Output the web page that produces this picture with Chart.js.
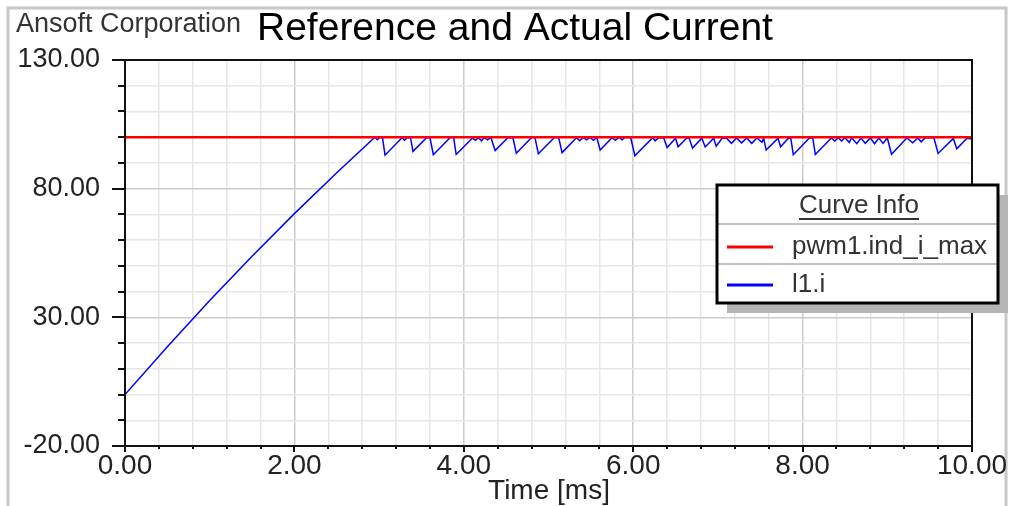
<!DOCTYPE html>
<html>
<head>
<meta charset="utf-8">
<script src="https://cdn.jsdelivr.net/npm/chart.js@4.4.1/dist/chart.umd.min.js"></script>
<style>
  html, body { margin: 0; padding: 0; background: #fff; overflow: hidden; }
  canvas { display: block; }
</style>
</head>
<body>
<canvas id="c" width="1013" height="506"></canvas>
<script>
// Texts
const chartTitle = 'Reference and Actual Current';
const companyLabel = 'Ansoft Corporation';
const xAxisTitle = 'Time [ms]';
const legendTitle = 'Curve Info';
const seriesNames = ['pwm1.ind_i_max', 'l1.i'];

// Tick labels shown on the axes
const xMajorTicks = [0, 2, 4, 6, 8, 10];
const yMajorTicks = [-20, 30, 80, 130];

// Reference current (pwm1.ind_i_max)
const refTime = [0, 10];
const refCurrent = [100, 100];

// Inductor current (l1.i): ramp-up, then hysteresis ripple under the reference
const timeMs = [
  0, 0.5, 1.0, 1.5, 2.0, 2.5, 2.95,
  2.98, 3.01, 3.04, 3.07, 3.27, 3.30, 3.33, 3.37, 3.40, 3.56, 3.60, 3.64, 3.84, 3.88, 3.91,
  4.10, 4.14, 4.17, 4.21, 4.24, 4.28, 4.32, 4.37, 4.52, 4.58, 4.62, 4.80, 4.84, 4.88,
  5.07, 5.12, 5.16, 5.33, 5.37, 5.41, 5.45, 5.49, 5.53, 5.57, 5.61, 5.75, 5.79, 5.83, 5.87, 5.90, 5.97,
  6.02, 6.23, 6.26, 6.30, 6.36, 6.40, 6.50, 6.53, 6.63, 6.66, 6.70, 6.81, 6.85, 6.95, 6.98,
  7.05, 7.10, 7.16, 7.22, 7.28, 7.34, 7.40, 7.46, 7.52, 7.54, 7.57, 7.71, 7.74, 7.83, 7.86, 7.89,
  8.08, 8.12, 8.15, 8.34, 8.38, 8.42, 8.46, 8.50, 8.55, 8.58, 8.64, 8.69, 8.74, 8.80, 8.85, 8.90, 8.95,
  9.00, 9.05, 9.23, 9.30, 9.36, 9.40, 9.45, 9.55, 9.60, 9.78, 9.82, 9.94, 10.0
];
const currentA = [
  0, 18.6, 36.5, 53.7, 70.3, 86.2, 100,
  99.0, 100, 99.8, 93.0, 99.8, 98.8, 99.8, 99.9, 94.5, 99.8, 99.9, 93.2, 99.9, 99.9, 93.3,
  99.6, 98.8, 99.8, 98.6, 99.9, 99.0, 99.9, 94.8, 99.8, 99.8, 93.8, 99.9, 99.9, 93.6,
  99.9, 99.9, 94.0, 99.8, 98.6, 99.9, 99.0, 99.9, 98.8, 99.9, 95.0, 99.8, 98.8, 99.9, 99.0, 99.9, 99.9,
  92.8, 99.8, 98.6, 99.8, 99.8, 96.0, 99.6, 96.3, 99.6, 99.7, 95.8, 99.6, 96.2, 99.6, 96.5,
  99.6, 99.7, 97.6, 99.7, 97.8, 99.7, 97.6, 99.7, 98.0, 99.6, 95.0, 99.6, 96.3, 99.5, 99.7, 93.2,
  99.7, 99.8, 93.3, 99.7, 98.5, 99.8, 98.5, 99.8, 98.0, 99.8, 97.5, 99.7, 97.6, 99.7, 97.5, 99.7, 97.6,
  99.7, 93.4, 99.7, 97.8, 99.7, 98.2, 99.8, 99.8, 93.7, 99.5, 95.5, 99.6, 99.3
];

const FONT = "'Liberation Sans', Arial, sans-serif";
const isMajor = (v, list) => list.some(m => Math.abs(m - v) < 1e-6);

// Page frame, header texts, plot box, tick marks, curve-info box
const decorations = {
  id: 'decorations',
  beforeDraw(chart) {
    const c = chart.ctx;
    c.save();
    c.fillStyle = '#fff';
    c.fillRect(0, 0, chart.width, chart.height);
    c.strokeStyle = '#c8c8c8';
    c.lineWidth = 3;
    c.beginPath();
    c.moveTo(8, chart.height);
    c.lineTo(8, 8);
    c.lineTo(1006, 8);
    c.lineTo(1006, chart.height);
    c.stroke();

    c.textBaseline = 'middle';
    c.textAlign = 'left';
    c.fillStyle = '#333';
    c.font = '27px ' + FONT;
    c.fillText(companyLabel, 16, 25);
    c.fillStyle = '#000';
    c.font = '39px ' + FONT;
    c.fillText(chartTitle, 257, 29);
    c.restore();
  },
  afterDatasetsDraw(chart) {
    const c = chart.ctx;
    const a = chart.chartArea;
    const xs = chart.scales.x, ys = chart.scales.y;
    c.save();
    c.strokeStyle = '#111';
    c.lineWidth = 2;
    c.strokeRect(a.left, a.top, a.right - a.left, a.bottom - a.top);
    c.beginPath();
    ys.ticks.forEach(t => {
      const y = Math.round(ys.getPixelForValue(t.value));
      const len = isMajor(t.value, yMajorTicks) ? 13 : 7;
      c.moveTo(a.left - len, y);
      c.lineTo(a.left, y);
    });
    xs.ticks.forEach(t => {
      const x = Math.round(xs.getPixelForValue(t.value));
      const len = isMajor(t.value, xMajorTicks) ? 6 : 3;
      c.moveTo(x, a.bottom);
      c.lineTo(x, a.bottom + len);
    });
    c.stroke();
    c.restore();
  },
  afterDraw(chart) {
    const c = chart.ctx;
    c.save();
    // axis title
    c.fillStyle = '#222';
    c.font = '28px ' + FONT;
    c.textAlign = 'center';
    c.textBaseline = 'middle';
    c.fillText(xAxisTitle, 549, 491);

    // curve info box
    const L = 717, T = 185, R = 998, B = 303;
    c.fillStyle = '#b4b4b4';
    c.fillRect(L + 10, T + 10, R - L, B - T);
    c.fillStyle = '#fff';
    c.fillRect(L, T, R - L, B - T);
    c.strokeStyle = '#c4c4c4';
    c.lineWidth = 2;
    c.beginPath();
    c.moveTo(L, 224); c.lineTo(R, 224);
    c.moveTo(L, 264); c.lineTo(R, 264);
    c.stroke();
    c.strokeStyle = '#000';
    c.lineWidth = 3;
    c.strokeRect(L, T, R - L, B - T);

    c.fillStyle = '#333';
    c.font = '26px ' + FONT;
    c.textAlign = 'center';
    c.fillText(legendTitle, 859, 206);
    const w = c.measureText(legendTitle).width;
    c.fillRect(859 - w / 2, 218, w, 2);

    const rows = [247, 285];
    chart.data.datasets.forEach((ds, i) => {
      c.strokeStyle = ds.borderColor;
      c.lineWidth = 3;
      c.beginPath();
      c.moveTo(727, rows[i]);
      c.lineTo(773, rows[i]);
      c.stroke();
      c.fillStyle = '#333';
      c.textAlign = 'left';
      c.fillText(ds.label, 792, rows[i]);
    });
    c.restore();
  }
};

new Chart(document.getElementById('c'), {
  type: 'line',
  data: {
    datasets: [
      {
        label: seriesNames[0],
        data: refTime.map((t, i) => ({ x: t, y: refCurrent[i] })),
        borderColor: '#ff0000',
        borderWidth: 2.5,
        pointRadius: 0,
        tension: 0
      },
      {
        label: seriesNames[1],
        data: timeMs.map((t, i) => ({ x: t, y: currentA[i] })),
        borderColor: '#0000ff',
        borderWidth: 1.5,
        pointRadius: 0,
        tension: 0
      }
    ]
  },
  options: {
    responsive: false,
    devicePixelRatio: 1,
    animation: false,
    layout: { padding: { top: 60, right: 41, left: 0, bottom: 0 } },
    plugins: { legend: { display: false }, title: { display: false }, tooltip: { enabled: false } },
    scales: {
      x: {
        type: 'linear',
        min: 0,
        max: 10,
        afterFit(s) { s.height = 60; },
        grid: {
          drawTicks: false,
          lineWidth: 1.5,
          color: ctx => isMajor(ctx.tick.value, xMajorTicks) ? '#cccccc' : '#e6e6e6'
        },
        border: { display: false },
        ticks: {
          stepSize: 0.4,
          autoSkip: false,
          maxRotation: 0,
          padding: 3,
          color: '#222',
          font: { family: FONT, size: 28 },
          callback: v => isMajor(v, xMajorTicks) ? v.toFixed(2) : ''
        }
      },
      y: {
        min: -20,
        max: 130,
        afterFit(s) { s.width = 125; },
        grid: {
          drawTicks: false,
          lineWidth: 1.5,
          color: ctx => isMajor(ctx.tick.value, yMajorTicks) ? '#cccccc' : '#e6e6e6'
        },
        border: { display: false },
        ticks: {
          stepSize: 10,
          autoSkip: false,
          padding: 25,
          color: '#222',
          font: { family: FONT, size: 27 },
          callback: v => isMajor(v, yMajorTicks) ? v.toFixed(2) : ''
        }
      }
    }
  },
  plugins: [decorations]
});
</script>
</body>
</html>
